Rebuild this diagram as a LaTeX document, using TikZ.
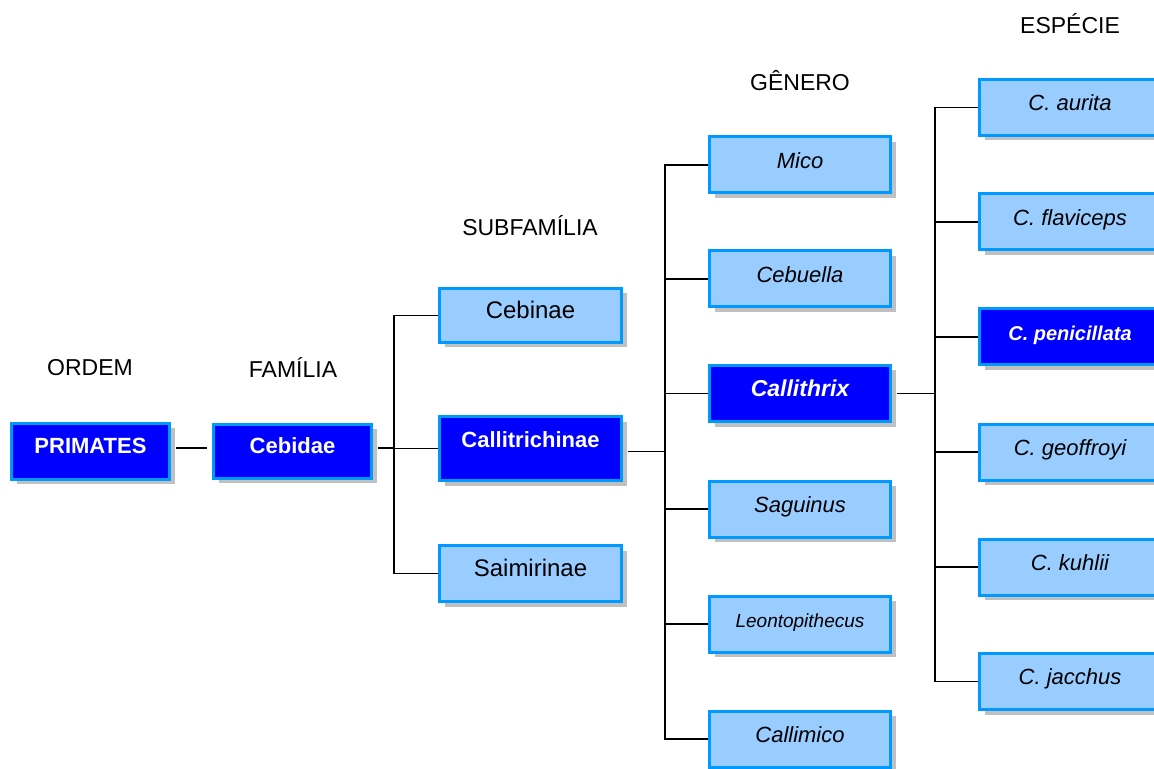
\documentclass[tikz,border=0pt]{standalone}
\usepackage{fontspec}
\setmainfont{Liberation Sans}
\usepackage{tikz}
\usetikzlibrary{shadows}
\definecolor{boxblue}{HTML}{0000FF}
\definecolor{boxlight}{HTML}{99CCFF}
\definecolor{boxedge}{HTML}{0099FF}
\definecolor{shadowgray}{HTML}{C0C0C0}
\tikzstyle{box} = [rectangle, draw=boxedge, line width=1.5pt, minimum width=90.5pt, minimum height=28pt, inner sep=0pt, text height=0.72em, text depth=4pt, general shadow={fill=shadowgray, shadow xshift=2.5pt, shadow yshift=-2.5pt}]
\tikzstyle{lightbox} = [box, fill=boxlight, text=black, font=\fontsize{11pt}{13pt}\selectfont\itshape]
\tikzstyle{darkbox} = [box, fill=boxblue, text=white, font=\fontsize{11pt}{13pt}\selectfont\bfseries]
\tikzstyle{rank} = [font=\fontsize{11.5pt}{14pt}\selectfont]
\tikzstyle{link} = [draw, line width=0.8pt]

\begin{document}
\begin{tikzpicture}[x=0.5pt, y=-0.5pt]
\useasboundingbox (0, 0) rectangle (1154, 769);
\clip (0, 0) rectangle (1154, 769);

%% rank headings
\node[rank] at (90, 368) (ordem) {ORDEM};
\node[rank] at (293, 368) (familia) {FAMÍLIA};
\node[rank] at (530, 226) (subfamilia) {SUBFAMÍLIA};
\node[rank] at (800, 81) (genero) {GÊNERO};
\node[rank] at (1070, 24) (especie) {ESPÉCIE};

%% order and family
\node[darkbox, minimum width=79pt, text depth=5pt] at (90.5, 451) (primates) {PRIMATES};
\node[darkbox, minimum width=79pt, minimum height=27pt, text depth=5pt] at (292.5, 451) (cebidae) {Cebidae};
\path[link] ([xshift=2.5pt, yshift=1.5pt]primates.east) to ([xshift=-2.5pt, yshift=1.5pt]cebidae.west);

%% subfamilies
\node[lightbox, minimum width=91pt, minimum height=27pt, font=\fontsize{12pt}{14pt}\selectfont] at (530.5, 315.5) (cebinae) {Cebinae};
\node[darkbox, minimum width=91pt, minimum height=32pt, text depth=8pt] at (530.5, 448.5) (callitrichinae) {Callitrichinae};
\node[lightbox, minimum width=91pt, minimum height=28pt, font=\fontsize{12pt}{14pt}\selectfont] at (530.5, 573.5) (saimirinae) {Saimirinae};

\coordinate (fambus) at (394, 448);
\coordinate (famout) at ([xshift=2.5pt, yshift=1.5pt]cebidae.east);
\path[link] (famout) to (famout -| fambus);
\path[link] (cebinae.west) -| (fambus |- saimirinae.west) -- (saimirinae.west);
\path[link] (fambus |- callitrichinae.west) to (callitrichinae.west);

%% genera
\node[lightbox] at (800, 165) (mico) {Mico};
\node[lightbox] at (800, 279) (cebuella) {Cebuella};
\node[darkbox, font=\fontsize{11.5pt}{13pt}\selectfont\bfseries\itshape] at (800, 393.5) (callithrix) {Callithrix};
\node[lightbox] at (800, 509) (saguinus) {Saguinus};
\node[lightbox, font=\fontsize{9.5pt}{11pt}\selectfont\itshape] at (800, 624) (leontopithecus) {Leontopithecus};
\node[lightbox] at (800, 739) (callimico) {Callimico};

\coordinate (genbus) at (665, 452);
\coordinate (subout) at ([xshift=2.5pt, yshift=-1.5pt]callitrichinae.east);
\path[link] (subout) to (subout -| genbus);
\path[link] (mico.west) -| (genbus |- callimico.west) -- (callimico.west);
\foreach \g in {cebuella, callithrix, saguinus, leontopithecus}
  \path[link] (genbus |- \g.west) to (\g.west);

%% species
\node[lightbox] at (1070, 107.5) (aurita) {C.\ aurita};
\node[lightbox] at (1070, 222) (flaviceps) {C.\ flaviceps};
\node[darkbox, font=\fontsize{10pt}{12pt}\selectfont\bfseries\itshape] at (1070, 337) (penicillata) {C.\ penicillata};
\node[lightbox] at (1070, 452) (geoffroyi) {C.\ geoffroyi};
\node[lightbox] at (1070, 567) (kuhlii) {C.\ kuhlii};
\node[lightbox] at (1070, 681.5) (jacchus) {C.\ jacchus};

\coordinate (spbus) at (935, 393.5);
\path[link] ([xshift=2.5pt]callithrix.east) to (callithrix.east -| spbus);
\path[link] (aurita.west) -| (spbus |- jacchus.west) -- (jacchus.west);
\foreach \s in {flaviceps, penicillata, geoffroyi, kuhlii}
  \path[link] (spbus |- \s.west) to (\s.west);
\end{tikzpicture}
\end{document}
